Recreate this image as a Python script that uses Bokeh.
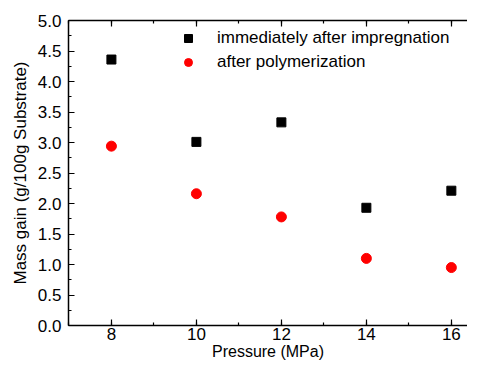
from bokeh.plotting import figure
from bokeh.models import (LinearAxis, SingleIntervalTicker, PrintfTickFormatter,
                          CustomJSTickFormatter, Range1d, Legend, LegendItem)
from bokeh.embed import file_html
from bokeh.resources import INLINE

pressure = [8, 10, 12, 14, 16]
after_impregnation = [4.36, 3.01, 3.33, 1.93, 2.21]
after_polymerization = [2.94, 2.16, 1.78, 1.10, 0.95]
label_impreg = "immediately after impregnation"
label_poly = "after polymerization"

FONT = "Liberation Sans"
FS = "17px"

p = figure(width=467, height=362, output_backend="svg", toolbar_location=None,
           x_range=Range1d(6.99, 16.38), y_range=Range1d(0, 5.0),
           min_border_left=68, min_border_top=20, min_border_bottom=36,
           min_border_right=0, x_axis_type=None, y_axis_type=None)
p.outline_line_color = None
p.outline_line_alpha = 0
p.outline_line_width = 0
p.background_fill_color = "white"
p.border_fill_color = "white"

xt = SingleIntervalTicker(interval=2, num_minor_ticks=2)
yt = SingleIntervalTicker(interval=0.5, num_minor_ticks=2)

def style(ax):
    ax.axis_line_width = 1.5
    ax.axis_line_color = "black"
    ax.major_tick_in = 6
    ax.major_tick_out = 0
    ax.minor_tick_in = 3
    ax.minor_tick_out = 0
    ax.major_tick_line_width = 1.2
    ax.minor_tick_line_width = 1.2
    ax.major_tick_line_color = "black"
    ax.minor_tick_line_color = "black"
    ax.major_label_text_font = FONT
    ax.major_label_text_font_size = FS
    ax.major_label_text_color = "black"
    ax.axis_label_text_font = FONT
    ax.axis_label_text_font_size = FS
    ax.axis_label_text_font_style = "normal"
    ax.axis_label_text_color = "black"

xb = LinearAxis(ticker=xt, axis_label="Pressure (MPa)")
style(xb)
xb.major_label_standoff = 2
xb.axis_label_standoff = 0
xb.axis_label_text_font_size = "16px"
p.add_layout(xb, "below")

xa = LinearAxis(ticker=xt, formatter=CustomJSTickFormatter(code="return ''"))
style(xa)
xa.major_label_standoff = 0
p.add_layout(xa, "above")

yl = LinearAxis(ticker=yt, axis_label="Mass gain (g/100g Substrate)",
                formatter=PrintfTickFormatter(format="%.1f"))
style(yl)
yl.major_label_standoff = 7
yl.axis_label_standoff = 5
p.add_layout(yl, "left")

p.xgrid.visible = False
p.ygrid.visible = False

r1 = p.scatter(pressure, after_impregnation, marker="square", size=9,
               fill_color="black", line_color="black")
r2 = p.scatter(pressure, after_polymerization, marker="circle", size=10,
               fill_color="red", line_color="red")

legend = Legend(items=[LegendItem(label=label_impreg, renderers=[r1]),
                       LegendItem(label=label_poly, renderers=[r2])],
                location=(110, 253), border_line_color=None,
                background_fill_alpha=0, padding=0, margin=0,
                spacing=4, glyph_width=20, glyph_height=20, label_standoff=19,
                label_text_font=FONT, label_text_font_size=FS,
                label_text_color="black", label_height=20)
p.add_layout(legend, "center")

open("out.html", "w").write(file_html(p, INLINE))
